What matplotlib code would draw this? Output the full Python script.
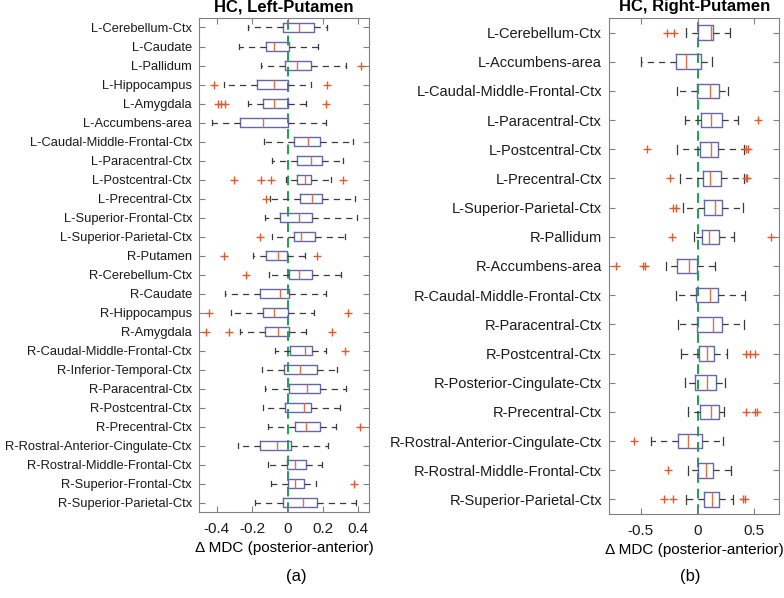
import numpy as np
import matplotlib
matplotlib.use('Agg')
import matplotlib.pyplot as plt

plt.rcParams['font.family'] = ['Liberation Sans', 'DejaVu Sans']

# ---- left panel: HC, Left-Putamen ----
left_labels = ['L-Cerebellum-Ctx', 'L-Caudate', 'L-Pallidum', 'L-Hippocampus', 'L-Amygdala',
               'L-Accumbens-area', 'L-Caudal-Middle-Frontal-Ctx', 'L-Paracentral-Ctx',
               'L-Postcentral-Ctx', 'L-Precentral-Ctx', 'L-Superior-Frontal-Ctx',
               'L-Superior-Parietal-Ctx', 'R-Putamen', 'R-Cerebellum-Ctx', 'R-Caudate',
               'R-Hippocampus', 'R-Amygdala', 'R-Caudal-Middle-Frontal-Ctx',
               'R-Inferior-Temporal-Ctx', 'R-Paracentral-Ctx', 'R-Postcentral-Ctx',
               'R-Precentral-Ctx', 'R-Rostral-Anterior-Cingulate-Ctx',
               'R-Rostral-Middle-Frontal-Ctx', 'R-Superior-Frontal-Ctx', 'R-Superior-Parietal-Ctx']
left_whislo = [-0.224, -0.275, -0.151, -0.356, -0.224, -0.427, -0.130, -0.090, -0.006, -0.098,
               -0.128, -0.089, -0.196, -0.102, -0.354, -0.320, -0.267, -0.072, -0.145, -0.128,
               -0.141, -0.111, -0.277, -0.111, -0.096, -0.181]
left_q1 = [-0.023, -0.121, -0.015, -0.173, -0.141, -0.266, 0.034, 0.056, 0.051, 0.068,
           -0.040, 0.034, -0.119, 0.006, -0.153, -0.136, -0.126, 0.015, -0.021, 0.011,
           -0.015, 0.045, -0.154, -0.002, 0.002, -0.023]
left_med = [0.064, -0.079, 0.053, -0.075, -0.079, -0.136, 0.113, 0.130, 0.098, 0.139,
            0.064, 0.077, -0.051, 0.064, -0.045, -0.077, -0.056, 0.098, 0.068, 0.109,
            0.094, 0.105, -0.058, 0.041, 0.045, 0.089]
left_q3 = [0.147, 0.011, 0.130, 0.000, 0.000, 0.000, 0.181, 0.194, 0.130, 0.196,
           0.136, 0.153, -0.004, 0.137, 0.008, 0.000, 0.006, 0.136, 0.164, 0.186,
           0.130, 0.186, 0.017, 0.107, 0.092, 0.169]
left_whishi = [0.224, 0.171, 0.331, 0.134, 0.102, 0.215, 0.369, 0.316, 0.245, 0.384,
               0.390, 0.324, 0.098, 0.301, 0.217, 0.149, 0.107, 0.215, 0.282, 0.328,
               0.294, 0.273, 0.226, 0.196, 0.160, 0.388]
left_fliers = [[], [], [0.416], [-0.414, 0.224], [-0.390, -0.377, -0.352, 0.218], [], [], [],
               [-0.301, -0.149, -0.096, 0.313], [-0.122], [], [-0.156], [-0.356, 0.169],
               [-0.234], [], [-0.446, 0.341], [-0.461, -0.330, 0.254], [0.322], [], [],
               [], [0.407], [], [], [0.373], []]

# ---- right panel: HC, Right-Putamen ----
right_labels = ['L-Cerebellum-Ctx', 'L-Accumbens-area', 'L-Caudal-Middle-Frontal-Ctx',
                'L-Paracentral-Ctx', 'L-Postcentral-Ctx', 'L-Precentral-Ctx',
                'L-Superior-Parietal-Ctx', 'R-Pallidum', 'R-Accumbens-area',
                'R-Caudal-Middle-Frontal-Ctx', 'R-Paracentral-Ctx', 'R-Postcentral-Ctx',
                'R-Posterior-Cingulate-Ctx', 'R-Precentral-Ctx',
                'R-Rostral-Anterior-Cingulate-Ctx', 'R-Rostral-Middle-Frontal-Ctx',
                'R-Superior-Parietal-Ctx']
right_whislo = [-0.106, -0.500, -0.185, -0.115, -0.185, -0.156, -0.132, -0.029, -0.279,
                -0.191, -0.176, -0.150, -0.115, -0.085, -0.412, -0.088, -0.106]
right_q1 = [0.006, -0.188, -0.003, 0.029, 0.024, 0.050, 0.056, 0.035, -0.179,
            -0.018, -0.009, 0.009, -0.021, 0.021, -0.174, 0.000, 0.059]
right_med = [0.121, -0.103, 0.106, 0.121, 0.121, 0.106, 0.150, 0.103, -0.074,
             0.109, 0.132, 0.085, 0.085, 0.115, -0.082, 0.076, 0.129]
right_q3 = [0.132, 0.026, 0.191, 0.212, 0.176, 0.203, 0.212, 0.191, -0.009,
            0.182, 0.212, 0.147, 0.162, 0.185, 0.035, 0.132, 0.188]
right_whishi = [0.288, 0.124, 0.268, 0.359, 0.409, 0.409, 0.400, 0.321, 0.150,
                0.418, 0.409, 0.259, 0.244, 0.232, 0.221, 0.297, 0.315]
right_fliers = [[-0.265, -0.206], [], [], [0.529], [-0.444, 0.424, 0.441],
                [-0.241, 0.424, 0.435], [-0.212, -0.188], [-0.226, 0.647],
                [-0.715, -0.485, -0.462], [], [], [0.426, 0.462, 0.509], [],
                [0.429, 0.509, 0.524], [-0.562], [-0.256], [-0.297, -0.212, 0.397, 0.421]]

box_c = '#6468a6'
med_c = '#e0704a'
out_c = '#e4582e'
whisk_c = '#3a3a3a'
zero_c = '#1aa34a'
spine_c = '#808080'


def draw_panel(ax, labels, whislo, q1, med, q3, whishi, fliers, title, xlim, xticks,
               xticklabels, ysize):
    stats = []
    for i in range(len(labels)):
        stats.append(dict(whislo=whislo[i], q1=q1[i], med=med[i], q3=q3[i],
                          whishi=whishi[i], fliers=fliers[i], label=labels[i]))
    pos = np.arange(1, len(labels) + 1)
    ax.axvline(0, color=zero_c, linestyle=(0, (5, 3)), linewidth=1.4, zorder=1)
    ax.bxp(stats, positions=pos, vert=False, widths=0.5, capwidths=0.3,
           boxprops=dict(color=box_c, linewidth=1.0),
           medianprops=dict(color=med_c, linewidth=1.0),
           whiskerprops=dict(color=whisk_c, linewidth=0.9, linestyle=(0, (5, 4))),
           capprops=dict(color=whisk_c, linewidth=0.9),
           flierprops=dict(marker='+', markeredgecolor=out_c, markersize=6,
                           markeredgewidth=1.0, linestyle='none'),
           zorder=2)
    ax.set_ylim(len(labels) + 0.5, 0.5)
    ax.set_xlim(*xlim)
    ax.set_xticks(xticks)
    ax.set_xticklabels(xticklabels)
    ax.set_yticks(pos)
    ax.set_yticklabels(labels)
    ax.tick_params(direction='in', top=True, right=True, length=4, color=spine_c,
                   labelcolor='#1a1a1a')
    ax.tick_params(axis='y', labelsize=ysize, pad=5)
    ax.tick_params(axis='x', labelsize=11, pad=7)
    for s in ax.spines.values():
        s.set_color(spine_c)
    ax.set_title(title, fontsize=12, fontweight='bold', pad=5)
    ax.set_xlabel('\u0394 MDC (posterior-anterior)', fontsize=11, labelpad=4)


fig = plt.figure(figsize=(7.84, 5.98), dpi=100)
ax1 = fig.add_axes([0.2538, 0.1438, 0.2168, 0.8261])
ax2 = fig.add_axes([0.7768, 0.1405, 0.2172, 0.8294])

draw_panel(ax1, left_labels, left_whislo, left_q1, left_med, left_q3, left_whishi, left_fliers,
           'HC, Left-Putamen', (-0.5, 0.46), [-0.4, -0.2, 0, 0.2, 0.4],
           ['-0.4', '-0.2', '0', '0.2', '0.4'], 9.3)
draw_panel(ax2, right_labels, right_whislo, right_q1, right_med, right_q3, right_whishi, right_fliers,
           'HC, Right-Putamen', (-0.78, 0.72), [-0.5, 0, 0.5], ['-0.5', '0', '0.5'], 10.5)

fig.text(296 / 784, 1 - 577 / 598, '(a)', ha='center', va='center', fontsize=12)
fig.text(690 / 784, 1 - 577 / 598, '(b)', ha='center', va='center', fontsize=12)

fig.savefig('out.png', dpi=100)
